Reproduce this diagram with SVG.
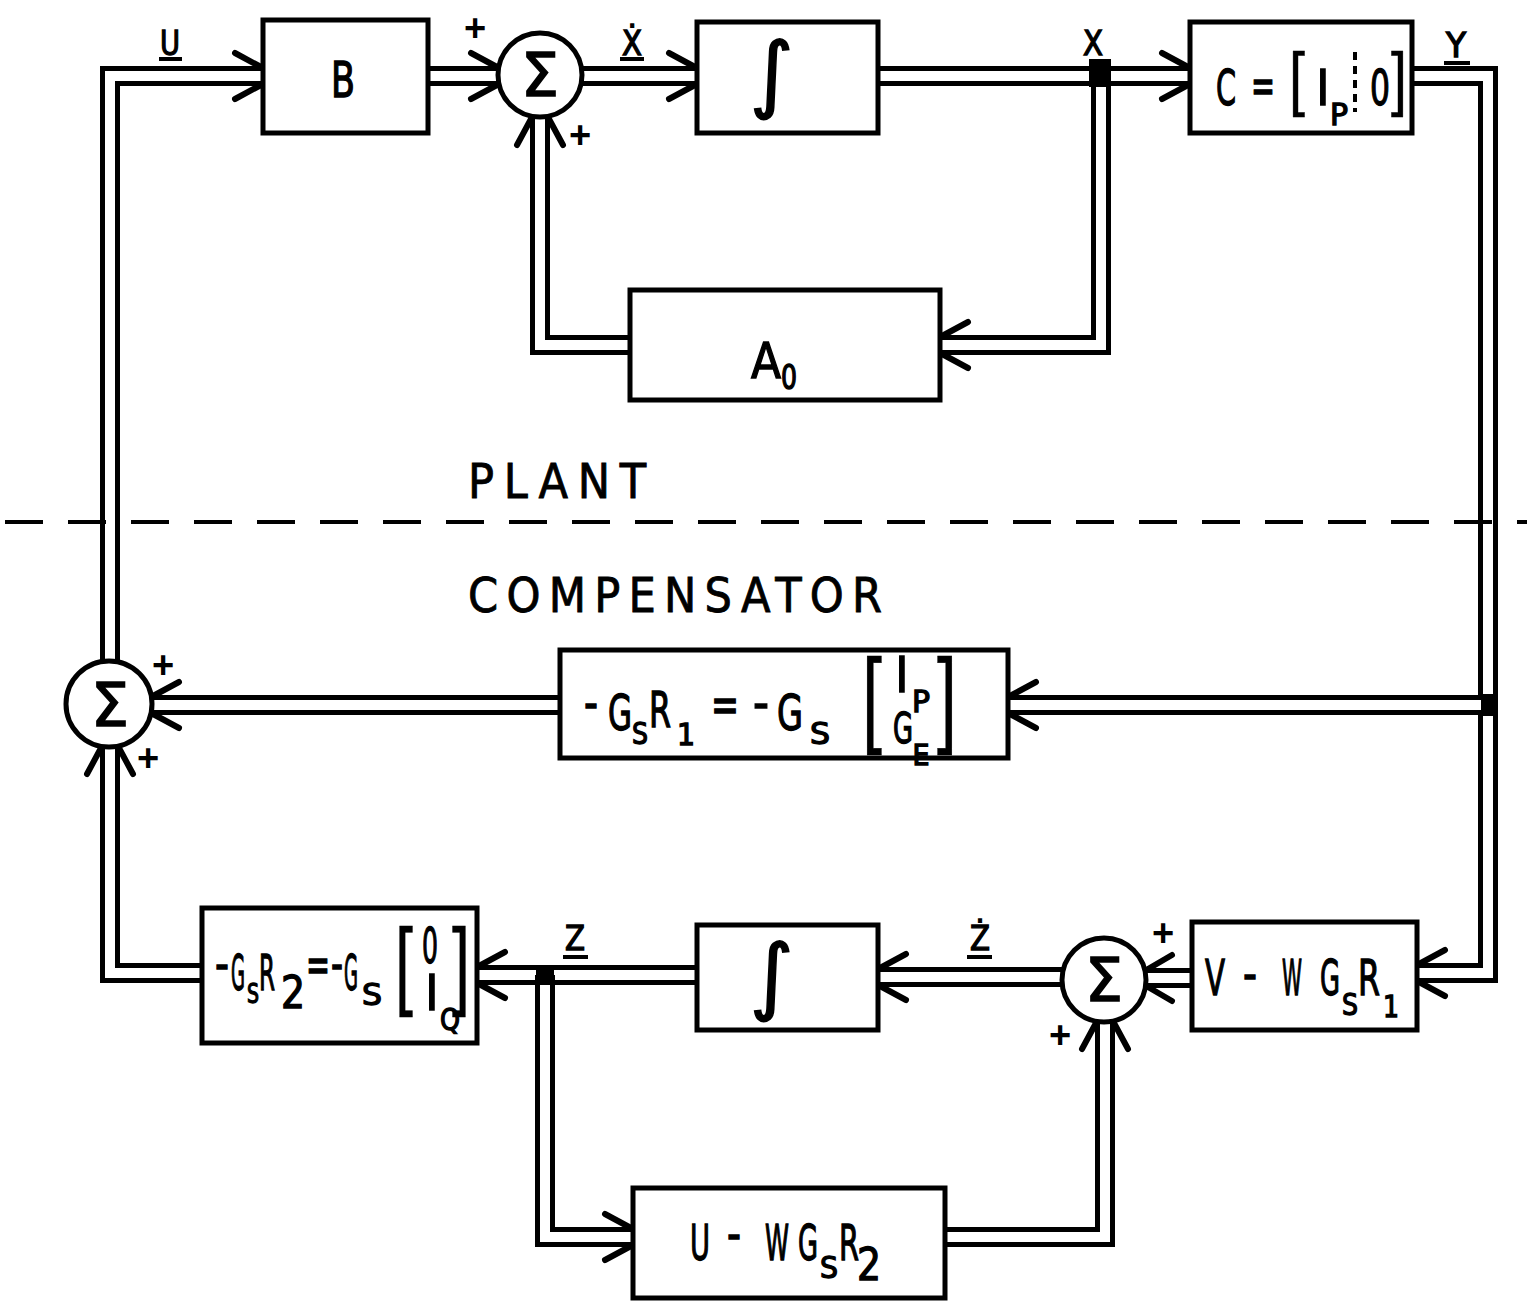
<svg xmlns="http://www.w3.org/2000/svg" width="1527" height="1302" viewBox="0 0 1527 1302">
<style>
.box{fill:#fff;stroke:#000;stroke-width:5}
.sum{fill:#fff;stroke:#000;stroke-width:5}
.lo{fill:none;stroke:#000;stroke-width:20;stroke-linejoin:miter}
.li{fill:none;stroke:#fff;stroke-width:10;stroke-linejoin:miter}
.ah{fill:none;stroke:#000;stroke-width:6;stroke-linecap:round}
.t{font-family:"Liberation Sans Narrow","DejaVu Sans Condensed","Liberation Sans",sans-serif;font-size:50px;text-anchor:middle;fill:#000;stroke:#000;stroke-width:1.3px}
.s{font-size:30px}
.br{font-family:"Liberation Sans",sans-serif;stroke-width:0.5px}
.sg{font-family:"DejaVu Sans",sans-serif;font-size:60px;text-anchor:middle;stroke:#000;stroke-width:1.5px}
.in{font-family:"DejaVu Sans",sans-serif;font-size:84px;text-anchor:middle;stroke:#000;stroke-width:1.5px}
.pl{font-family:"Liberation Sans",sans-serif;font-size:38px;font-weight:bold;text-anchor:middle}
.cap{font-family:"Liberation Sans Narrow","DejaVu Sans Condensed","Liberation Sans",sans-serif;font-size:48px;fill:#000;stroke:#000;stroke-width:0.8px}
.lb{font-size:34px}
.ul{fill:#000}
</style>

<g id="connectors">
  <path class="lo" d="M110,662 V76 H263"/><path class="li" d="M110,662 V76 H263"/>
  <path class="lo" d="M428,76 H499"/><path class="li" d="M428,76 H499"/>
  <path class="lo" d="M581,76 H697"/><path class="li" d="M581,76 H697"/>
  <path class="lo" d="M878,76 H1190"/><path class="li" d="M878,76 H1190"/>
  <path class="lo" d="M1101,76 V345 H940"/><path class="li" d="M1101,76 V345 H940"/>
  <path class="lo" d="M630,345 H540 V117"/><path class="li" d="M630,345 H540 V117"/>
  <path class="lo" d="M1412,76 H1488 V973 H1417"/><path class="li" d="M1412,76 H1488 V973 H1417"/>
  <path class="lo" d="M1488,705 H1008"/><path class="li" d="M1488,705 H1008"/>
  <path class="lo" d="M560,705 H151"/><path class="li" d="M560,705 H151"/>
  <path class="lo" d="M1192,978 H1146"/><path class="li" d="M1192,978 H1146"/>
  <path class="lo" d="M1062,977 H878"/><path class="li" d="M1062,977 H878"/>
  <path class="lo" d="M697,975 H477"/><path class="li" d="M697,975 H477"/>
  <path class="lo" d="M545,975 V1237 H633"/><path class="li" d="M545,975 V1237 H633"/>
  <path class="lo" d="M945,1237 H1105 V1021"/><path class="li" d="M945,1237 H1105 V1021"/>
  <path class="lo" d="M202,973 H110 V746"/><path class="li" d="M202,973 H110 V746"/>
  <rect x="1089" y="59" width="22" height="28" fill="#000"/>
  <rect x="1481" y="694" width="14" height="22" fill="#000"/>
  <rect x="536" y="965" width="18" height="20" fill="#000"/>
  <path class="ah" d="M235,53 L261,67 M235,99 L261,85"/>
  <path class="ah" d="M471,53 L497,67 M471,99 L497,85"/>
  <path class="ah" d="M669,53 L695,67 M669,99 L695,85"/>
  <path class="ah" d="M1162,53 L1188,67 M1162,99 L1188,85"/>
  <path class="ah" d="M968,322 L942,336 M968,368 L942,354"/>
  <path class="ah" d="M517,145 L531,119 M563,145 L549,119"/>
  <path class="ah" d="M1445,950 L1419,964 M1445,996 L1419,982"/>
  <path class="ah" d="M1036,682 L1010,696 M1036,728 L1010,714"/>
  <path class="ah" d="M179,682 L153,696 M179,728 L153,714"/>
  <path class="ah" d="M1172,955 L1148,969 M1172,1001 L1148,987"/>
  <path class="ah" d="M906,954 L880,968 M906,1000 L880,986"/>
  <path class="ah" d="M505,952 L479,966 M505,998 L479,984"/>
  <path class="ah" d="M605,1214 L631,1228 M605,1260 L631,1246"/>
  <path class="ah" d="M1082,1049 L1096,1023 M1128,1049 L1114,1023"/>
  <path class="ah" d="M87,774 L101,748 M133,774 L119,748"/>
</g>

<g id="divider">
  <line x1="5" y1="522" x2="1527" y2="522" stroke="#000" stroke-width="4" stroke-dasharray="38 25"/>
  <text class="cap" x="468" y="498" textLength="178" lengthAdjust="spacing">PLANT</text>
  <text class="cap" x="468" y="612" textLength="414" lengthAdjust="spacing">COMPENSATOR</text>
</g>

<g id="node-B">
  <rect class="box" x="263" y="20" width="165" height="113"/>
  <text class="t" x="343" y="97" textLength="24" lengthAdjust="spacingAndGlyphs">B</text>
</g>

<g id="node-sum1">
  <circle class="sum" cx="540" cy="75" r="42"/>
  <text class="sg" x="540" y="96">Σ</text>
  <text class="pl" x="475" y="41">+</text>
  <text class="pl" x="580" y="148">+</text>
</g>

<g id="node-int1">
  <rect class="box" x="697" y="22" width="181" height="111"/>
  <text class="in" x="772" y="102">∫</text>
</g>

<g id="node-C">
  <rect class="box" x="1190" y="22" width="222" height="111"/>
  <text class="t" x="1226" y="105" textLength="20" lengthAdjust="spacingAndGlyphs">C</text>
  <text class="t" x="1263" y="103" textLength="24" lengthAdjust="spacingAndGlyphs">=</text>
  <text class="t br" x="1297" y="102" style="font-size:70px" textLength="16" lengthAdjust="spacingAndGlyphs">[</text>
  <text class="t" x="1323" y="105">I</text>
  <text class="t s" x="1339" y="125" textLength="18" lengthAdjust="spacingAndGlyphs">P</text>
  <line x1="1355" y1="52" x2="1355" y2="112" stroke="#000" stroke-width="4" stroke-dasharray="8 6"/>
  <text class="t" x="1380" y="105" textLength="20" lengthAdjust="spacingAndGlyphs">0</text>
  <text class="t br" x="1399" y="102" style="font-size:70px" textLength="16" lengthAdjust="spacingAndGlyphs">]</text>
</g>

<g id="node-A0">
  <rect class="box" x="630" y="290" width="310" height="110"/>
  <text class="t" x="766" y="378" textLength="30" lengthAdjust="spacingAndGlyphs">A</text>
  <text class="t" x="789" y="389" style="font-size:34px" textLength="16" lengthAdjust="spacingAndGlyphs">0</text>
</g>

<g id="node-GsR1">
  <rect class="box" x="560" y="650" width="448" height="108"/>
  <text class="t" x="591" y="720" textLength="14" lengthAdjust="spacingAndGlyphs">-</text>
  <text class="t" x="620" y="730" textLength="24" lengthAdjust="spacingAndGlyphs">G</text>
  <text class="t s" x="640" y="744" textLength="16" lengthAdjust="spacingAndGlyphs">S</text>
  <text class="t" x="660" y="727" textLength="22" lengthAdjust="spacingAndGlyphs">R</text>
  <text class="t s" x="686" y="745" textLength="18" lengthAdjust="spacingAndGlyphs">1</text>
  <text class="t" x="725" y="722" textLength="28" lengthAdjust="spacingAndGlyphs">=</text>
  <text class="t" x="761" y="720" textLength="16" lengthAdjust="spacingAndGlyphs">-</text>
  <text class="t" x="790" y="730" textLength="26" lengthAdjust="spacingAndGlyphs">G</text>
  <text class="t s" x="820" y="744" textLength="20" lengthAdjust="spacingAndGlyphs">S</text>
  <text class="t br" x="872" y="733" style="font-size:106px" textLength="20" lengthAdjust="spacingAndGlyphs">[</text>
  <text class="t" x="902" y="692">I</text>
  <text class="t s" x="921" y="712" textLength="18" lengthAdjust="spacingAndGlyphs">P</text>
  <text class="t" x="903" y="743" style="font-size:42px" textLength="20" lengthAdjust="spacingAndGlyphs">G</text>
  <text class="t" x="921" y="765" style="font-size:28px" textLength="17" lengthAdjust="spacingAndGlyphs">E</text>
  <text class="t br" x="947" y="733" style="font-size:106px" textLength="20" lengthAdjust="spacingAndGlyphs">]</text>
</g>

<g id="node-sumL">
  <circle class="sum" cx="109" cy="704" r="43"/>
  <text class="sg" x="110" y="726">Σ</text>
  <text class="pl" x="163" y="678">+</text>
  <text class="pl" x="148" y="771">+</text>
</g>

<g id="node-GsR2">
  <rect class="box" x="202" y="908" width="275" height="135"/>
  <text class="t" x="222" y="981" textLength="14" lengthAdjust="spacingAndGlyphs">-</text>
  <text class="t" x="238" y="990" textLength="14" lengthAdjust="spacingAndGlyphs">G</text>
  <text class="t" x="253" y="1003" style="font-size:27px" textLength="12" lengthAdjust="spacingAndGlyphs">S</text>
  <text class="t" x="267" y="990" textLength="16" lengthAdjust="spacingAndGlyphs">R</text>
  <text class="t" x="293" y="1008" style="font-size:44px" textLength="24" lengthAdjust="spacingAndGlyphs">2</text>
  <text class="t" x="318" y="982" textLength="24" lengthAdjust="spacingAndGlyphs">=</text>
  <text class="t" x="337" y="981" textLength="12" lengthAdjust="spacingAndGlyphs">-</text>
  <text class="t" x="351" y="990" textLength="14" lengthAdjust="spacingAndGlyphs">G</text>
  <text class="t s" x="372" y="1005" textLength="20" lengthAdjust="spacingAndGlyphs">S</text>
  <text class="t br" x="404" y="997" style="font-size:99px" textLength="18" lengthAdjust="spacingAndGlyphs">[</text>
  <text class="t" x="430" y="963" textLength="16" lengthAdjust="spacingAndGlyphs">0</text>
  <text class="t" x="432" y="1010">I</text>
  <text class="t s" x="450" y="1030" textLength="20" lengthAdjust="spacingAndGlyphs">Q</text>
  <text class="t br" x="461" y="997" style="font-size:99px" textLength="18" lengthAdjust="spacingAndGlyphs">]</text>
</g>

<g id="node-int2">
  <rect class="box" x="697" y="925" width="181" height="105"/>
  <text class="in" x="772" y="1004">∫</text>
</g>

<g id="node-sumB">
  <circle class="sum" cx="1104" cy="980" r="42"/>
  <text class="sg" x="1104" y="1001">Σ</text>
  <text class="pl" x="1163" y="946">+</text>
  <text class="pl" x="1060" y="1048">+</text>
</g>

<g id="node-VW">
  <rect class="box" x="1192" y="922" width="225" height="108"/>
  <text class="t" x="1215" y="995" textLength="20" lengthAdjust="spacingAndGlyphs">V</text>
  <text class="t" x="1250" y="991" textLength="14" lengthAdjust="spacingAndGlyphs">-</text>
  <text class="t" x="1292" y="995" textLength="20" lengthAdjust="spacingAndGlyphs">W</text>
  <text class="t" x="1330" y="995" textLength="20" lengthAdjust="spacingAndGlyphs">G</text>
  <text class="t s" x="1350" y="1015" textLength="16" lengthAdjust="spacingAndGlyphs">S</text>
  <text class="t" x="1369" y="995" textLength="22" lengthAdjust="spacingAndGlyphs">R</text>
  <text class="t s" x="1391" y="1017" textLength="16" lengthAdjust="spacingAndGlyphs">1</text>
</g>

<g id="node-UW">
  <rect class="box" x="633" y="1188" width="312" height="110"/>
  <text class="t" x="700" y="1260" textLength="20" lengthAdjust="spacingAndGlyphs">U</text>
  <text class="t" x="734" y="1251" textLength="14" lengthAdjust="spacingAndGlyphs">-</text>
  <text class="t" x="777" y="1260" textLength="24" lengthAdjust="spacingAndGlyphs">W</text>
  <text class="t" x="808" y="1260" textLength="20" lengthAdjust="spacingAndGlyphs">G</text>
  <text class="t s" x="829" y="1278" textLength="18" lengthAdjust="spacingAndGlyphs">S</text>
  <text class="t" x="849" y="1260" textLength="20" lengthAdjust="spacingAndGlyphs">R</text>
  <text class="t" x="869" y="1280" style="font-size:44px" textLength="24" lengthAdjust="spacingAndGlyphs">2</text>
</g>

<g id="labels">
  <text class="t lb" x="170" y="55" textLength="20" lengthAdjust="spacingAndGlyphs">U</text>
  <rect class="ul" x="159" y="57" width="23" height="4"/>
  <text class="t lb" x="632" y="55" textLength="20" lengthAdjust="spacingAndGlyphs">Ẋ</text>
  <rect class="ul" x="620" y="57" width="24" height="4"/>
  <text class="t lb" x="1093" y="55" textLength="20" lengthAdjust="spacingAndGlyphs">X</text>
  <text class="t lb" x="1456" y="57" textLength="20" lengthAdjust="spacingAndGlyphs">Y</text>
  <rect class="ul" x="1444" y="61" width="26" height="4"/>
  <text class="t lb" x="575" y="950" textLength="20" lengthAdjust="spacingAndGlyphs">Z</text>
  <rect class="ul" x="563" y="955" width="25" height="4"/>
  <text class="t lb" x="980" y="950" textLength="20" lengthAdjust="spacingAndGlyphs">Ż</text>
  <rect class="ul" x="967" y="955" width="25" height="4"/>
</g>
</svg>
